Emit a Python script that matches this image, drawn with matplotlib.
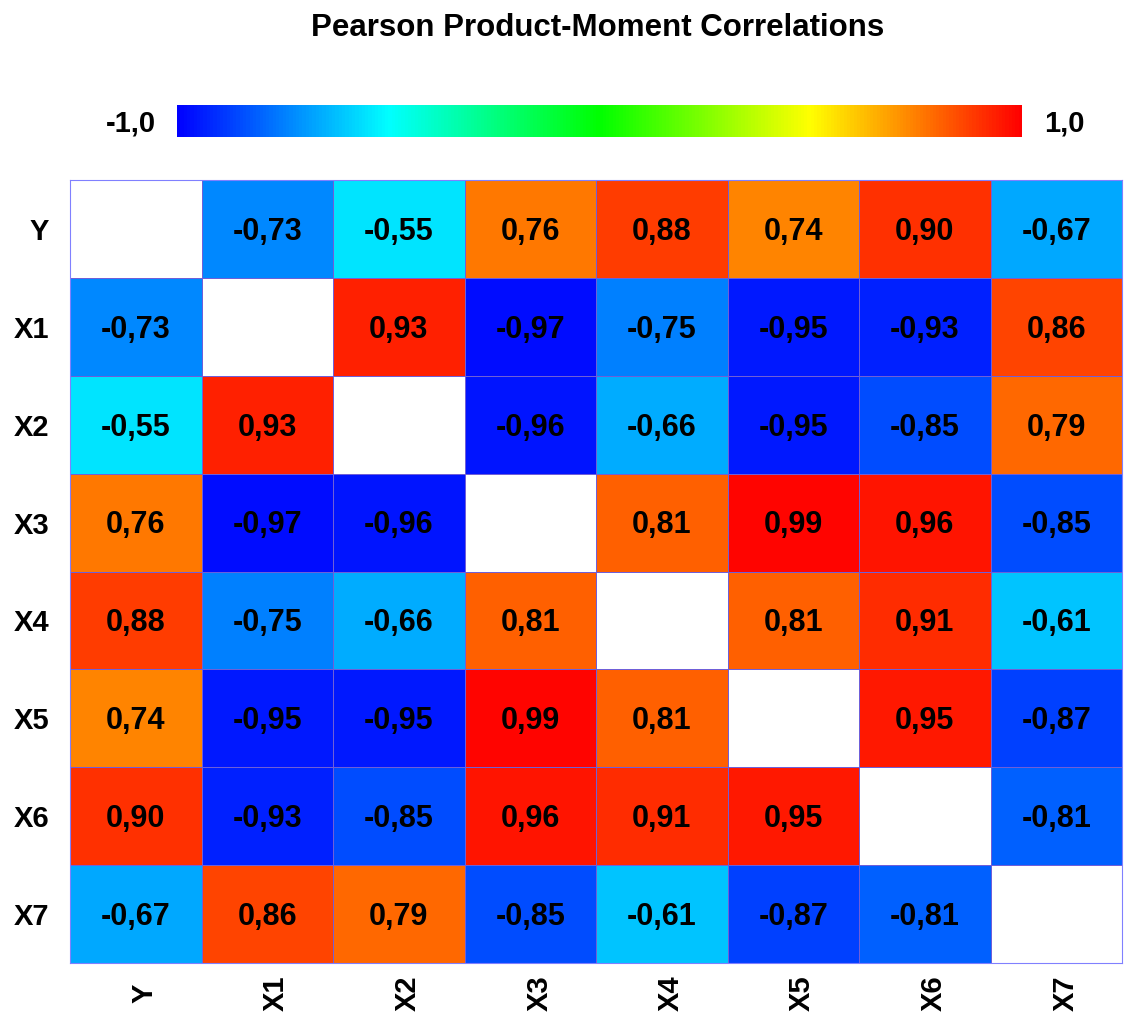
import numpy as np
import matplotlib
matplotlib.use("Agg")
import matplotlib.pyplot as plt
from matplotlib.colors import LinearSegmentedColormap
from matplotlib.transforms import ScaledTranslation

plt.rcParams['font.family'] = ['Liberation Sans', 'DejaVu Sans']
plt.rcParams['font.weight'] = 'bold'

# variables and correlation values (diagonal left empty)
variables = ["Y", "X1", "X2", "X3", "X4", "X5", "X6", "X7"]
row_Y = [np.nan, -0.73, -0.55, 0.76, 0.88, 0.74, 0.90, -0.67]
row_X1 = [-0.73, np.nan, 0.93, -0.97, -0.75, -0.95, -0.93, 0.86]
row_X2 = [-0.55, 0.93, np.nan, -0.96, -0.66, -0.95, -0.85, 0.79]
row_X3 = [0.76, -0.97, -0.96, np.nan, 0.81, 0.99, 0.96, -0.85]
row_X4 = [0.88, -0.75, -0.66, 0.81, np.nan, 0.81, 0.91, -0.61]
row_X5 = [0.74, -0.95, -0.95, 0.99, 0.81, np.nan, 0.95, -0.87]
row_X6 = [0.90, -0.93, -0.85, 0.96, 0.91, 0.95, np.nan, -0.81]
row_X7 = [-0.67, 0.86, 0.79, -0.85, -0.61, -0.87, -0.81, np.nan]

corr = np.array([row_Y, row_X1, row_X2, row_X3, row_X4, row_X5, row_X6, row_X7])
n = len(variables)

# jet-like palette: blue -> cyan -> green -> yellow -> red
cmap = LinearSegmentedColormap.from_list(
    "corr", ["#0000ff", "#00ffff", "#00ff00", "#ffff00", "#ff0000"])
cmap.set_bad("white")

fig = plt.figure(figsize=(11.28, 10.23), dpi=100)

ax = fig.add_axes([70 / 1128, 1 - 963 / 1023, (1122 - 70) / 1128, (963 - 180) / 1023])
masked = np.ma.masked_invalid(corr)
mesh = ax.pcolormesh(np.arange(n + 1), np.arange(n + 1), masked, cmap=cmap,
                     vmin=-1, vmax=1, edgecolors="#6f5fd8", linewidth=0.4)
ax.set_xlim(0, n)
ax.set_ylim(n, 0)

for i in range(n):
    for j in range(n):
        v = corr[i, j]
        if not np.isnan(v):
            ax.text(j + 0.5, i + 0.53, f"{v:.2f}".replace(".", ","),
                    ha="center", va="center", fontsize=22, fontweight="bold")

ax.set_xticks(np.arange(n) + 0.5)
ax.set_xticklabels(variables, rotation=90, va="center", fontsize=21, fontweight="bold")
ax.set_yticks(np.arange(n) + 0.5)
ax.set_yticklabels(variables, fontsize=21, fontweight="bold")
ax.tick_params(axis="x", length=0, pad=22)
ax.tick_params(axis="y", length=0, pad=15)
# rotated labels sit slightly right of the cell centres in the original
shift = ScaledTranslation(9 / 100, 0, fig.dpi_scale_trans)
for lab in ax.get_xticklabels():
    lab.set_transform(lab.get_transform() + shift)
for s in ax.spines.values():
    s.set_color("#8080ff")
    s.set_linewidth(0.8)

# colour bar on top
cax = fig.add_axes([177 / 1128, 1 - 137 / 1023, (1022 - 177) / 1128, 32 / 1023])
cb = fig.colorbar(mesh, cax=cax, orientation="horizontal")
cb.outline.set_visible(False)
cax.set_xticks([])
fig.text(156 / 1128, 1 - 123 / 1023, "-1,0", ha="right", va="center",
         fontsize=21, fontweight="bold")
fig.text(1044 / 1128, 1 - 123 / 1023, "1,0", ha="left", va="center",
         fontsize=21, fontweight="bold")

fig.text(598 / 1128, 1 - 28 / 1023, "Pearson Product-Moment Correlations",
         ha="center", va="center", fontsize=22.5, fontweight="bold")

fig.savefig("out.png", dpi=100)
